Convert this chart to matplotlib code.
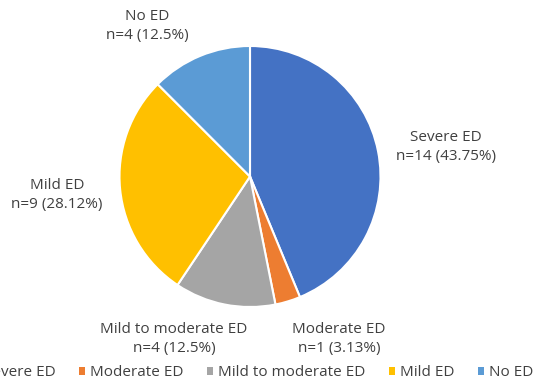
import matplotlib
matplotlib.use("Agg")
import matplotlib.pyplot as plt
from matplotlib.patches import Patch

plt.rcParams['font.family'] = ['Open Sans', 'DejaVu Sans']

categories = ["Severe ED", "Moderate ED", "Mild to moderate ED", "Mild ED", "No ED"]
counts = [14, 1, 4, 9, 4]
percents = ["43.75%", "3.13%", "12.5%", "28.12%", "12.5%"]
colors = ["#4472C4", "#ED7D31", "#A5A5A5", "#FFC000", "#5B9BD5"]

W, H = 538, 382
fig = plt.figure(figsize=(W / 100, H / 100), dpi=100)
ax = fig.add_axes([0, 0, 1, 1])

cx, cy, r = 250, H - 176.5, 130.5
ax.pie(counts, colors=colors, startangle=90, counterclock=False,
       center=(cx, cy), radius=r, frame=True,
       wedgeprops=dict(edgecolor="white", linewidth=1.5))
ax.set_xlim(0, W)
ax.set_ylim(0, H)
ax.set_aspect("equal")
ax.axis("off")

# label centres in pixel coords (x, y from top)
label_pos = [(446, 147), (339, 339), (174, 339), (57, 195), (147, 26)]
for name, n, p, (x, y) in zip(categories, counts, percents, label_pos):
    ax.text(x, H - y, f"{name}\nn={n} ({p})", ha="center", va="center",
            fontsize=11, color="#404040", linespacing=1.3)

# legend is cut off on the left in the original too
handles = [Patch(facecolor=c, edgecolor="none") for c in colors]
fig.legend(handles, categories, loc="center", ncol=5, frameon=False,
           bbox_to_anchor=(253 / W, 1 - 373 / H), fontsize=11,
           handlelength=0.4, handleheight=0.4, handletextpad=0.35,
           columnspacing=1.52, labelcolor="#404040")

fig.savefig("out.png", dpi=100)
